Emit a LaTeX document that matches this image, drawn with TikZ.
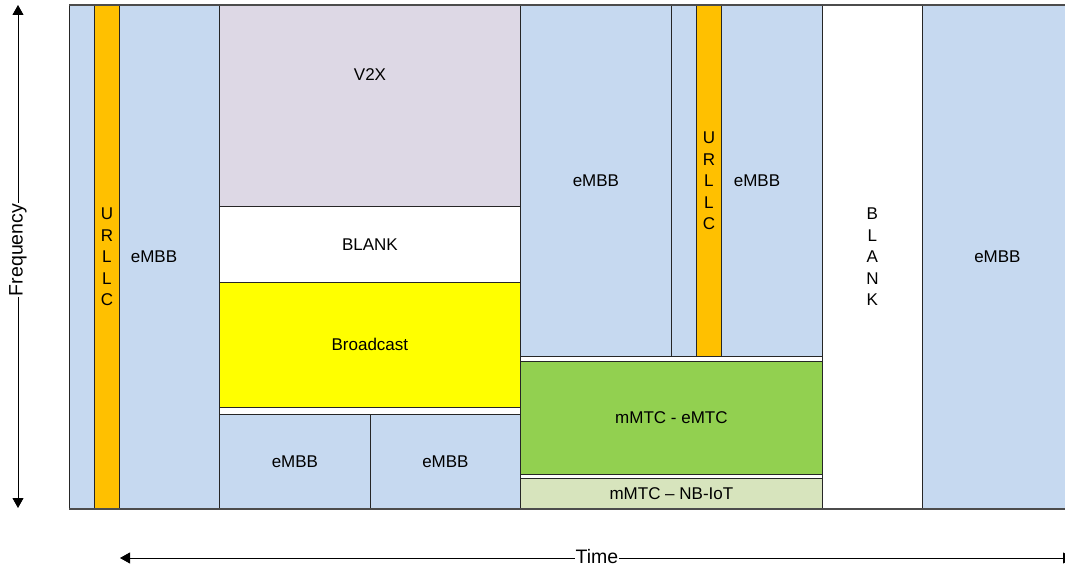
\documentclass[tikz,border=0pt]{standalone}
\usepackage{fontspec}
\setmainfont{Liberation Sans}
\usetikzlibrary{arrows.meta}
\definecolor{embb}{HTML}{C6D9F0}
\definecolor{urllc}{HTML}{FFC000}
\definecolor{vtwox}{HTML}{DDD8E5}
\definecolor{bcast}{HTML}{FFFF00}
\definecolor{emtc}{HTML}{92D050}
\definecolor{nbiot}{HTML}{D7E4BD}
\begin{document}
\begin{tikzpicture}[x=1pt,y=-1pt,
  cell/.style={draw=black!85, line width=0.8pt, inner sep=0pt, anchor=north west,
    font=\fontsize{17}{21.5}\selectfont, align=center},
  txt/.style={font=\fontsize{17}{21.5}\selectfont, align=center, inner sep=0pt},
  axislbl/.style={font=\fontsize{19.5}{22}\selectfont, fill=white, inner sep=1pt},
  axis/.style={line width=0.9pt, {Triangle[length=10pt,width=11pt]}-{Triangle[length=10pt,width=11pt]}},
  frame/.style={draw=black!70, line width=1.4pt}]
\useasboundingbox (0,0) rectangle (1065,569);
% column 1
\node[cell, fill=embb, minimum width=150pt, minimum height=503pt] (e1) at (69,5) {};
\node[cell, fill=urllc, minimum width=25pt, minimum height=503pt] (u1) at (94,5) {U\\R\\L\\L\\C};
\node[txt] (te1) at (154,257) {eMBB};
% column 2
\node[cell, fill=vtwox, minimum width=301pt, minimum height=201pt] (v2x) at (219,5) {};
\node[txt] (tv2x) at (370,75) {V2X};
\node[cell, fill=white, minimum width=301pt, minimum height=76pt] (blank1) at (219,206) {BLANK};
\node[cell, fill=bcast, minimum width=301pt, minimum height=125pt] (bc) at (219,282) {Broadcast};
\node[cell, fill=white, minimum width=301pt, minimum height=7pt] (gap1) at (219,407) {};
\node[cell, fill=embb, minimum width=151pt, minimum height=94pt] (e2a) at (219,414) {eMBB};
\node[cell, fill=embb, minimum width=150pt, minimum height=94pt] (e2b) at (370,414) {eMBB};
% column 3
\node[cell, fill=embb, minimum width=151pt, minimum height=351pt] (e3a) at (520,5) {eMBB};
\node[cell, fill=embb, minimum width=151pt, minimum height=351pt] (e3b) at (671,5) {};
\node[cell, fill=urllc, minimum width=25pt, minimum height=351pt] (u3) at (696,5) {U\\R\\L\\L\\C};
\node[txt] (te3b) at (757,181) {eMBB};
\node[cell, fill=white, minimum width=302pt, minimum height=5pt] (gap2) at (520,356) {};
\node[cell, fill=emtc, minimum width=302pt, minimum height=113pt] (emtc) at (520,361) {mMTC - eMTC};
\node[cell, fill=white, minimum width=302pt, minimum height=4pt] (gap3) at (520,474) {};
\node[cell, fill=nbiot, minimum width=302pt, minimum height=30pt] (nb) at (520,478) {mMTC -- NB-IoT};
% column 4
\node[cell, fill=white, minimum width=100pt, minimum height=503pt] (blank2) at (822,5) {B\\L\\A\\N\\K};
% column 5
\node[cell, fill=embb, minimum width=150pt, minimum height=503pt] (e5) at (922,5) {eMBB};
% frame
\draw[frame] (e1.north west) -- (e5.north east);
\draw[frame] (e1.south west) -- (e5.south east);
% axes
\coordinate (fT) at (18,5);
\coordinate (fB) at (18,508);
\draw[axis] (fT) -- (fB);
\node[axislbl, rotate=90] (flbl) at (18,250) {Frequency};
\coordinate (tL) at (120,558);
\coordinate (tR) at (1073,558);
\draw[axis] (tL) -- (tR);
\node[axislbl] (tlbl) at (597,557) {Time};
\end{tikzpicture}
\end{document}
